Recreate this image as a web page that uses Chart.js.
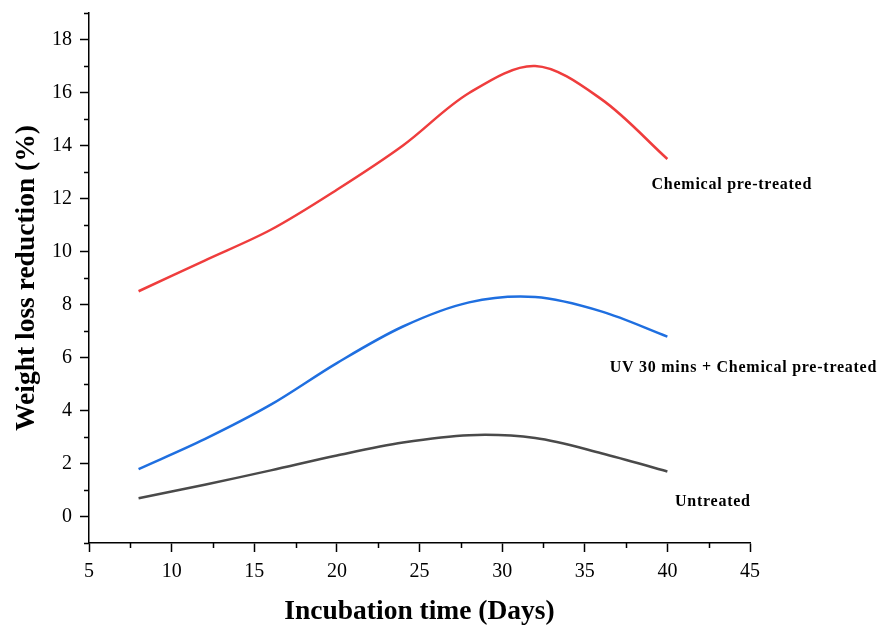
<!DOCTYPE html>
<html lang="en">
<head>
<meta charset="utf-8">
<title>Weight loss reduction</title>
<script src="https://cdn.jsdelivr.net/npm/chart.js@4.4.1/dist/chart.umd.min.js"></script>
<style>
    html, body { margin: 0; padding: 0; background: #fff; }
    #wrap { width: 877px; height: 628px; }
</style>
</head>
<body>
<div id="wrap"><canvas id="chart" width="877" height="628"></canvas></div>
<script>
// days sampled along each curve
const days = [8, 12, 16, 20, 24, 28, 32, 36, 40];

const chemical  = [8.5, 9.66, 10.82, 12.33, 14.0, 15.98, 17.0, 15.75, 13.49];
const uvChemical = [1.79, 2.92, 4.22, 5.79, 7.17, 8.08, 8.28, 7.74, 6.79];
const untreated = [0.69, 1.2, 1.74, 2.3, 2.79, 3.07, 2.96, 2.39, 1.7];

const yTicks = [0, 2, 4, 6, 8, 10, 12, 14, 16, 18];
const yMinor = [-1, 1, 3, 5, 7, 9, 11, 13, 15, 17, 19];
const xMinor = [7.5, 12.5, 17.5, 22.5, 27.5, 32.5, 37.5, 42.5];

// curve labels, placed in data units
const labels = [
    { text: 'Chemical pre-treated', x: 43.9, y: 12.5 },
    { text: 'UV 30 mins + Chemical pre-treated', x: 44.6, y: 5.61 },
    { text: 'Untreated', x: 42.75, y: 0.55 }
];

const serif = '"Liberation Serif", "Times New Roman", serif';

function pts(ys) {
    return days.map((d, i) => ({ x: d, y: ys[i] }));
}

const minorTicks = {
    id: 'minorTicks',
    afterDraw(chart) {
        const ctx = chart.ctx;
        const xs = chart.scales.x, ys = chart.scales.y;
        const area = chart.chartArea;
        ctx.save();
        ctx.strokeStyle = '#000';
        ctx.lineWidth = 1.5;
        ctx.beginPath();
        yMinor.forEach(v => {
            let py = Math.round(ys.getPixelForValue(v)) + 0.5;
            ctx.moveTo(area.left - 5, py);
            ctx.lineTo(area.left, py);
        });
        xMinor.forEach(v => {
            let px = Math.round(xs.getPixelForValue(v)) + 0.5;
            ctx.moveTo(px, area.bottom);
            ctx.lineTo(px, area.bottom + 5);
        });
        ctx.stroke();

        ctx.fillStyle = '#000';
        ctx.font = 'bold 16px ' + serif;
        ctx.letterSpacing = '0.75px';
        ctx.textAlign = 'center';
        ctx.textBaseline = 'middle';
        labels.forEach(l => {
            ctx.fillText(l.text, xs.getPixelForValue(l.x), ys.getPixelForValue(l.y));
        });
        ctx.restore();
    }
};

new Chart(document.getElementById('chart'), {
    type: 'scatter',
    data: {
        datasets: [
            { label: 'Chemical pre-treated', data: pts(chemical), borderColor: '#ef3d3d' },
            { label: 'UV 30 mins + Chemical pre-treated', data: pts(uvChemical), borderColor: '#1f6fe0' },
            { label: 'Untreated', data: pts(untreated), borderColor: '#4a4a4a' }
        ]
    },
    options: {
        responsive: false,
        animation: false,
        showLine: true,
        layout: { padding: { top: 13, right: 127, left: 0, bottom: 0 } },
        elements: {
            line: { tension: 0.33, borderWidth: 2.5, fill: false },
            point: { radius: 0, hoverRadius: 0 }
        },
        plugins: {
            legend: { display: false },
            tooltip: { enabled: false }
        },
        scales: {
            x: {
                type: 'linear',
                min: 5,
                max: 45,
                afterFit(scale) {
                    scale.height = 85;
                    scale.paddingLeft = 0;
                    scale.paddingRight = 0;
                },
                ticks: { stepSize: 5, color: '#000', padding: 8, font: { family: serif, size: 20 } },
                grid: { drawOnChartArea: false, tickLength: 9, tickColor: '#000', tickWidth: 1.5 },
                border: { color: '#000', width: 1.5 },
                title: {
                    display: true,
                    text: 'Incubation time (Days)',
                    color: '#000',
                    padding: { top: 0, bottom: 0 },
                    font: { family: serif, size: 27.5, weight: 'bold' }
                }
            },
            y: {
                min: -1,
                max: 19,
                afterFit(scale) {
                    scale.width = 89;
                    scale.paddingTop = 0;
                    scale.paddingBottom = 0;
                },
                afterBuildTicks(scale) { scale.ticks = yTicks.map(v => ({ value: v })); },
                ticks: { color: '#000', padding: 8, font: { family: serif, size: 20 } },
                grid: { drawOnChartArea: false, tickLength: 9, tickColor: '#000', tickWidth: 1.5 },
                border: { color: '#000', width: 1.5 },
                title: {
                    display: true,
                    text: 'Weight loss reduction (%)',
                    color: '#000',
                    padding: { top: 10, bottom: 0 },
                    font: { family: serif, size: 27.5, weight: 'bold' }
                }
            }
        }
    },
    plugins: [minorTicks]
});
</script>
</body>
</html>
